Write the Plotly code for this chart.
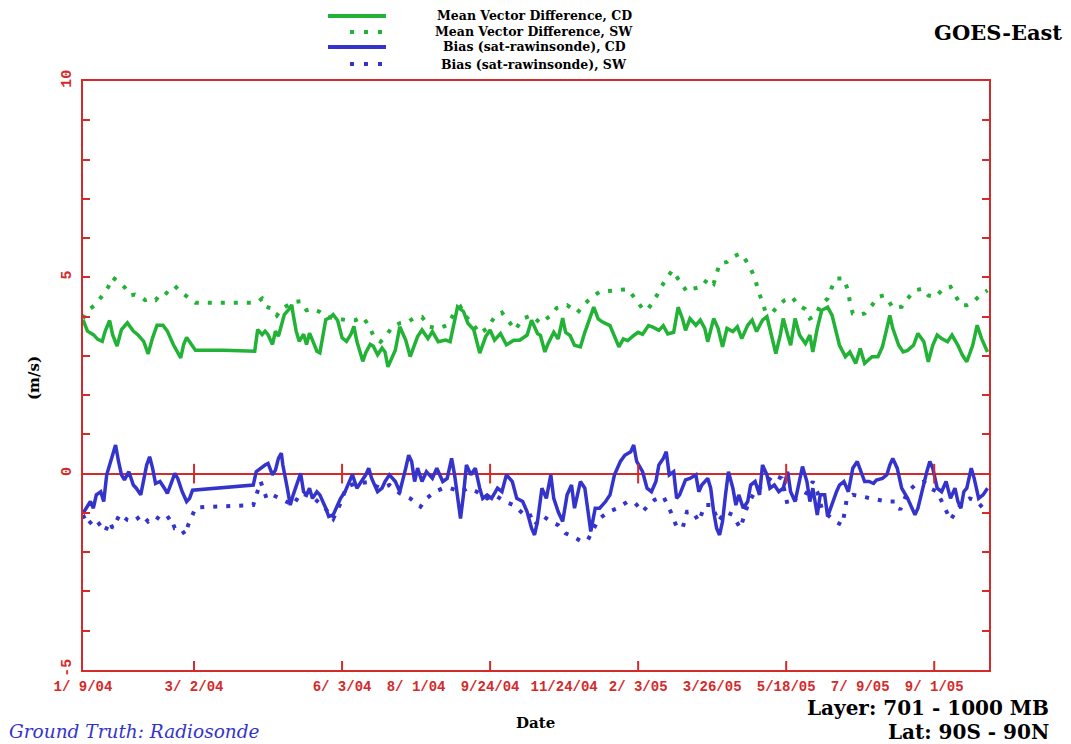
import plotly.graph_objects as go

# ---------------- data (sample index along the time axis, m/s) ----------------
TICK_POS = [0, 75, 175, 225, 275, 325, 375, 425, 475, 525, 575]
TICK_LABELS = ["1/ 9/04", "3/ 2/04", "6/ 3/04", "8/ 1/04", "9/24/04", "11/24/04",
               "2/ 3/05", "3/26/05", "5/18/05", "7/ 9/05", "9/ 1/05"]
MAJOR_TICKS = [75, 175, 275, 375, 475, 575]
X_MAX = 612

mvd_cd_x = [0, 3, 7, 10, 13, 15, 18, 20, 23, 26, 30, 34, 37, 41, 44, 47, 50, 54, 57, 61, 66, 68, 70, 73, 76,
            95, 115, 116, 118, 121, 123, 125, 128, 130, 132, 134, 136, 139, 141, 142, 144, 146, 149, 151, 153,
            155, 158, 160, 162, 164, 167, 169, 172, 175, 178, 181, 183, 185, 189, 191, 194, 196, 199, 202, 204,
            206, 211, 214, 218, 221, 226, 229, 233, 236, 240, 245, 248, 250, 253, 257, 260, 264, 268, 272, 275,
            278, 282, 286, 291, 295, 300, 303, 307, 309, 312, 314, 318, 321, 324, 326, 329, 332, 336, 339, 343,
            345, 348, 351, 356, 359, 362, 365, 368, 372, 375, 378, 382, 385, 389, 392, 395, 399, 402, 405, 407,
            410, 414, 417, 420, 422, 426, 429, 432, 435, 439, 442, 445, 449, 452, 455, 459, 462, 465, 468, 471,
            473, 476, 478, 481, 484, 488, 491, 493, 496, 499, 503, 506, 509, 511, 515, 518, 522, 525, 528, 533,
            537, 540, 543, 545, 547, 551, 554, 557, 561, 564, 568, 571, 574, 577, 580, 584, 587, 591, 594, 597,
            601, 604, 607, 611]
mvd_cd_y = [3.92, 3.63, 3.54, 3.42, 3.37, 3.63, 3.90, 3.54, 3.25, 3.67, 3.84, 3.63, 3.54, 3.37, 3.05, 3.46,
            3.78, 3.78, 3.63, 3.29, 2.95, 3.29, 3.47, 3.29, 3.14,
            3.14, 3.11, 3.12, 3.67, 3.54, 3.63, 3.54, 3.29, 3.63, 3.50, 3.80, 4.05, 4.18, 4.30, 4.05, 3.63,
            3.37, 3.55, 3.29, 3.58, 3.40, 3.12, 3.08, 3.46, 3.92, 3.98, 4.05, 3.90, 3.46, 3.37, 3.55, 3.75,
            3.37, 2.86, 3.08, 3.29, 3.25, 3.03, 3.20, 3.10, 2.72, 3.15, 3.74, 3.40, 2.98, 3.49, 3.66, 3.44,
            3.62, 3.36, 3.40, 3.36, 3.74, 4.25, 4.13, 3.83, 3.66, 3.07, 3.49, 3.66, 3.40, 3.57, 3.28, 3.40,
            3.40, 3.53, 3.91, 3.57, 3.52, 3.10, 3.30, 3.60, 3.43, 3.96, 3.60, 3.52, 3.27, 3.23, 3.60, 4.03,
            4.24, 3.94, 3.86, 3.77, 3.52, 3.23, 3.43, 3.39, 3.52, 3.60, 3.55, 3.77, 3.73, 3.65, 3.77, 3.56,
            3.60, 4.24, 3.94, 3.65, 3.95, 3.78, 3.91, 3.70, 3.36, 3.95, 3.70, 3.23, 3.70, 3.62, 3.74, 3.44,
            3.78, 3.91, 3.62, 3.91, 4.00, 3.53, 3.06, 3.53, 3.95, 3.53, 3.27, 3.95, 3.53, 3.31, 3.53, 3.10,
            3.70, 4.16, 4.24, 4.03, 3.53, 3.27, 2.98, 3.10, 2.81, 3.19, 2.81, 2.98, 2.98, 3.23, 3.70, 4.03,
            3.70, 3.27, 3.10, 3.14, 3.27, 3.57, 3.36, 2.85, 3.27, 3.53, 3.44, 3.36, 3.53, 3.27, 3.02, 2.85,
            3.27, 3.78, 3.44, 3.10]

mvd_sw_x = [0, 3, 8, 11, 14, 17, 20, 24, 28, 32, 35, 39, 42, 45, 49, 52, 55, 59, 62, 66, 69, 72, 76,
            115, 118, 121, 124, 128, 131, 134, 138, 142, 147, 151, 155, 160, 165, 169, 174, 178, 184, 189,
            193, 196, 201, 205, 209, 214, 219, 223, 229, 234, 240, 246, 251, 255, 258, 263, 268, 273, 278,
            283, 287, 292, 297, 303, 309, 316, 320, 327, 334, 339, 344, 349, 355, 361, 368, 373, 378, 381,
            385, 389, 392, 398, 401, 405, 408, 412, 418, 422, 426, 430, 435, 439, 444, 447, 451, 454, 456,
            459, 461, 466, 470, 474, 479, 483, 488, 491, 495, 498, 503, 506, 509, 514, 517, 518, 520, 525,
            528, 533, 537, 541, 544, 547, 553, 557, 562, 567, 571, 576, 581, 586, 589, 593, 597, 601, 606, 611]
mvd_sw_y = [3.95, 4.15, 4.29, 4.42, 4.58, 4.75, 5.00, 4.88, 4.75, 4.54, 4.56, 4.50, 4.42, 4.46, 4.42, 4.56,
            4.54, 4.71, 4.78, 4.63, 4.54, 4.46, 4.35,
            4.35, 4.37, 4.46, 4.25, 4.20, 4.03, 4.19, 4.29, 4.37, 4.39, 4.16, 4.20, 4.12, 3.99, 3.97, 3.92,
            3.91, 3.91, 3.99, 3.78, 3.53, 3.36, 3.53, 3.74, 3.83, 3.85, 3.95, 3.99, 3.74, 3.70, 3.78, 4.10,
            4.25, 4.03, 3.83, 3.57, 3.70, 3.99, 4.10, 3.91, 3.66, 3.95, 4.03, 3.83, 4.03, 4.22, 4.29, 4.10,
            4.33, 4.50, 4.63, 4.65, 4.67, 4.70, 4.46, 4.20, 4.16, 4.37, 4.63, 4.84, 5.18, 5.01, 4.76, 4.63,
            4.71, 4.76, 4.97, 4.84, 5.35, 5.39, 5.52, 5.61, 5.48, 5.22, 4.97, 4.67, 4.37, 4.12, 4.12, 4.29,
            4.42, 4.50, 4.29, 4.19, 3.95, 4.03, 4.29, 4.46, 4.76, 4.97, 4.97, 4.63, 4.37, 4.08, 4.05, 4.08,
            4.29, 4.50, 4.54, 4.42, 4.22, 4.25, 4.46, 4.67, 4.71, 4.54, 4.50, 4.71, 4.76, 4.54, 4.29, 4.29,
            4.37, 4.54, 4.67]

bias_cd_x = [0, 3, 5, 7, 9, 12, 14, 16, 18, 20, 22, 24, 26, 28, 31, 34, 36, 39, 41, 43, 45, 47, 49, 52, 55,
             57, 60, 62, 64, 67, 70, 72, 74,
             115, 117, 120, 123, 125, 128, 130, 132, 134, 135, 138, 140, 142, 145, 147, 149, 151, 153, 155,
             158, 160, 164, 166, 169, 172, 174, 177, 180, 182, 185, 189, 191, 193, 195, 199, 202, 204, 207,
             211, 214, 218, 220, 222, 224, 226, 229, 232, 236, 239, 243, 246, 249, 251, 253, 255, 257, 259,
             262, 265, 268, 270, 273, 276, 280, 283, 286, 290, 293, 297, 300, 303, 305, 307, 310, 313, 316,
             318, 321, 324, 327, 330, 332, 336, 339, 341, 343, 346, 349, 353, 356, 359, 363, 366, 370, 372,
             374, 378, 381, 384, 387, 389, 392, 394, 396, 399, 401, 403, 407, 410, 414, 416, 418, 422, 424,
             426, 428, 430, 432, 434, 436, 439, 441, 443, 446, 449, 451, 454, 457, 459, 462, 464, 467, 470,
             473, 476, 478, 481, 483, 486, 489, 491, 493, 496, 498, 501, 503, 507, 509, 511, 514, 517, 520,
             523, 526, 528, 531, 534, 536, 540, 543, 545, 547, 550, 553, 557, 560, 562, 564, 567, 570, 572,
             574, 577, 580, 583, 586, 589, 591, 593, 595, 597, 600, 602, 605, 608, 611]
bias_cd_y = [-1.01, -0.84, -0.71, -0.88, -0.54, -0.46, -0.71, -0.03, 0.22, 0.47, 0.73, 0.31, -0.03, -0.16,
             0.05, -0.29, -0.37, -0.54, -0.12, 0.22, 0.43, 0.14, -0.25, -0.20, -0.37, -0.50, -0.20, 0.01,
             -0.12, -0.46, -0.71, -0.63, -0.42,
             -0.29, 0.05, 0.14, 0.22, 0.26, -0.03, 0.09, 0.39, 0.52, 0.22, -0.37, -0.80, -0.54, -0.20, 0.01,
             -0.46, -0.54, -0.37, -0.63, -0.46, -0.54, -0.88, -1.09, -1.05, -0.80, -0.63, -0.46, -0.20, -0.02,
             -0.37, -0.12, -0.03, 0.14, -0.12, -0.46, -0.37, -0.20, -0.03, -0.20, -0.46, 0.14, 0.47, 0.31,
             -0.20, 0.14, -0.20, 0.05, -0.12, 0.14, -0.20, -0.12, 0.39, -0.03, -0.63, -1.14, -0.54, 0.22,
             -0.03, 0.14, -0.37, -0.63, -0.54, -0.63, -0.37, -0.46, -0.03, -0.20, -0.63, -0.71, -0.97, -1.39,
             -1.56, -1.22, -0.37, -0.63, -0.03, -0.63, -0.97, -1.22, -0.54, -0.29, -0.88, -0.20, -0.37, -0.97,
             -1.47, -0.88, -0.88, -0.71, -0.54, -0.03, 0.31, 0.47, 0.56, 0.73, 0.31, 0.05, -0.37, -0.46, -0.20,
             0.22, 0.39, 0.56, -0.03, 0.05, -0.63, -0.54, -0.16, -0.12, -0.03, -0.46, -0.29, -0.12, -0.37,
             -0.97, -1.39, -1.56, -1.22, -0.54, 0.05, -0.37, -0.80, -0.54, -0.88, -0.71, -0.29, -0.20, -0.54,
             0.22, -0.03, -0.37, -0.29, -0.46, -0.37, 0.05, -0.46, -0.71, -0.37, 0.18, -0.20, -0.71, -0.37,
             -1.05, -0.54, -0.54, -1.09, -0.63, -0.46, -0.29, -0.20, -0.46, 0.14, 0.31, -0.03, -0.20, -0.20,
             -0.25, -0.16, -0.12, -0.03, 0.22, 0.39, 0.14, -0.37, -0.63, -0.88, -1.05, -0.88, -0.37, 0.05,
             0.31, 0.14, -0.37, -0.46, -0.20, -0.63, -0.37, -0.71, -0.88, -0.46, -0.37, 0.14, -0.12, -0.63,
             -0.54, -0.37]

bias_sw_x = [0, 3, 8, 13, 15, 18, 20, 25, 30, 34, 40, 44, 49, 54, 59, 62, 66, 69, 71, 74, 76,
             115, 118, 120, 124, 128, 133, 138, 142, 147, 155, 164, 169, 174, 178, 184, 192, 201, 207, 214,
             221, 228, 232, 238, 243, 248, 255, 260, 266, 273, 278, 285, 291, 297, 301, 305, 311, 316, 321,
             326, 331, 337, 341, 345, 349, 355, 361, 368, 373, 378, 381, 386, 392, 397, 399, 401, 405, 408,
             412, 416, 420, 425, 429, 434, 439, 444, 449, 455, 461, 466, 472, 476, 482, 488, 493, 496, 499,
             503, 508, 513, 516, 520, 526, 532, 537, 543, 549, 552, 557, 562, 568, 572, 577, 582, 586, 591,
             595, 599, 604, 608, 611]
bias_sw_y = [-1.05, -1.31, -1.14, -1.35, -1.47, -1.22, -1.39, -1.03, -1.18, -1.22, -1.05, -1.22, -1.09,
             -1.22, -1.09, -1.39, -1.39, -1.56, -1.31, -1.05, -0.86,
             -0.80, -0.46, -0.20, -0.63, -0.54, -0.63, -0.71, -0.80, -0.50, -0.59, -0.90, -1.15, -0.75, -0.33,
             -0.25, -0.22, -0.37, -0.29, -0.50, -0.63, -0.84, -0.63, -0.46, -0.37, -0.37, -0.46, -0.37, -0.46,
             -0.63, -0.54, -0.71, -0.80, -1.01, -0.97, -1.31, -1.09, -1.22, -1.31, -1.52, -1.60, -1.73, -1.69,
             -1.39, -1.14, -0.97, -0.88, -0.71, -0.75, -0.97, -0.84, -0.67, -0.58, -0.97, -1.14, -1.35, -1.39,
             -0.97, -0.97, -1.22, -0.80, -0.80, -1.22, -0.97, -1.05, -1.39, -0.80, -0.37, -0.29, -0.03, -0.12,
             -0.80, -0.63, -0.54, -0.20, -0.46, -0.88, -1.05, -1.22, -1.31, -0.63, -0.54, -0.58, -0.63, -0.67,
             -0.71, -0.71, -0.92, -0.46, -0.29, -0.20, -0.37, -0.46, -0.84, -1.18, -0.88, -0.71, -0.63, -0.71,
             -0.88, -0.97]

# ---------------- styling ----------------
GREEN = "#21b236"
BLUE = "#3434cc"
RED = "#d42a2a"
W, H = 1071, 744
L, R, T, B = 83, 989, 81, 670


def px(x):
    return (x - L) / (R - L)


def py(y):
    return (B - y) / (B - T)


fig = go.Figure()
fig.add_trace(go.Scatter(x=mvd_cd_x, y=mvd_cd_y, mode="lines", line=dict(color=GREEN, width=3.5)))
fig.add_trace(go.Scatter(x=mvd_sw_x, y=mvd_sw_y, mode="lines", line=dict(color=GREEN, width=4, dash="4px,9px")))
fig.add_trace(go.Scatter(x=bias_cd_x, y=bias_cd_y, mode="lines", line=dict(color=BLUE, width=3.5)))
fig.add_trace(go.Scatter(x=bias_sw_x, y=bias_sw_y, mode="lines", line=dict(color=BLUE, width=4, dash="4px,9px")))

shapes = []
# bottom axis ticks and zero-line ticks at major positions
for t in MAJOR_TICKS:
    shapes.append(dict(type="line", xref="x", yref="paper", x0=t, x1=t, y0=0, y1=9 / (B - T),
                       line=dict(color=RED, width=2)))
    shapes.append(dict(type="line", xref="x", yref="y", x0=t, x1=t, y0=-0.25, y1=0.25,
                       line=dict(color=RED, width=2)))

# legend samples
legend_items = [
    ("Mean Vector Difference, CD", GREEN, "solid", 16),
    ("Mean Vector Difference, SW", GREEN, "4px,10px", 32),
    ("Bias (sat-rawinsonde), CD", BLUE, "solid", 47),
    ("Bias (sat-rawinsonde), SW", BLUE, "4px,10px", 64),
]
annotations = []
for text, col, dash, yy in legend_items:
    x0 = 328 if dash == "solid" else 350
    shapes.append(dict(type="line", xref="paper", yref="paper", x0=px(x0), x1=px(386),
                       y0=py(yy), y1=py(yy), line=dict(color=col, width=4, dash=dash)))
    annotations.append(dict(text=text, xref="paper", yref="paper", x=px(534), y=py(yy),
                            xanchor="center", yanchor="middle", showarrow=False,
                            font=dict(family="DejaVu Serif", size=12.5, color="black", weight="bold")))

annotations += [
    dict(text="GOES-East", xref="paper", yref="paper", x=px(1064), y=py(33), xanchor="right",
         yanchor="middle", showarrow=False,
         font=dict(family="DejaVu Serif", size=21, color="black", weight="bold")),
    dict(text="(m/s)", xref="paper", yref="paper", x=px(34), y=py(378), xanchor="center",
         yanchor="middle", showarrow=False, textangle=-90,
         font=dict(family="DejaVu Serif", size=15, color="black", weight="bold")),
    dict(text="Date", xref="paper", yref="paper", x=px(535), y=py(723), xanchor="center",
         yanchor="middle", showarrow=False,
         font=dict(family="DejaVu Serif", size=15, color="black", weight="bold")),
    dict(text="Ground Truth: Radiosonde", xref="paper", yref="paper", x=px(7), y=py(731),
         xanchor="left", yanchor="middle", showarrow=False,
         font=dict(family="DejaVu Serif", size=18.5, color=BLUE, style="italic")),
    dict(text="Layer: 701 - 1000 MB", xref="paper", yref="paper", x=px(1051), y=py(708),
         xanchor="right", yanchor="middle", showarrow=False,
         font=dict(family="DejaVu Serif", size=20, color="black", weight="bold")),
    dict(text="Lat: 90S - 90N", xref="paper", yref="paper", x=px(1051), y=py(732),
         xanchor="right", yanchor="middle", showarrow=False,
         font=dict(family="DejaVu Serif", size=20, color="black", weight="bold")),
]

ytick_vals = list(range(-5, 11))
ytick_text = [str(v) if v % 5 == 0 else "" for v in ytick_vals]

fig.update_layout(
    width=W, height=H,
    margin=dict(l=L, r=W - R, t=T, b=H - B, pad=0),
    plot_bgcolor="white", paper_bgcolor="white",
    showlegend=False,
    shapes=shapes,
    annotations=annotations,
    xaxis=dict(range=[0, X_MAX], tickmode="array", tickvals=TICK_POS, ticktext=TICK_LABELS,
               ticks="", showgrid=False, zeroline=False, showline=True, linecolor=RED, linewidth=2,
               mirror=True, ticklabelstandoff=2,
               tickfont=dict(family="Liberation Mono", size=14, color=RED, weight="bold")),
    yaxis=dict(range=[-5, 10], tickmode="array", tickvals=ytick_vals, ticktext=ytick_text,
               ticks="inside", ticklen=7, tickcolor=RED, tickwidth=1.5, mirror="ticks",
               showgrid=False, zeroline=True, zerolinecolor=RED, zerolinewidth=2,
               showline=True, linecolor=RED, linewidth=2, tickangle=-90, ticklabelstandoff=4,
               tickfont=dict(family="Liberation Mono", size=15, color=RED, weight="bold")),
)

fig.write_html("out.html")
